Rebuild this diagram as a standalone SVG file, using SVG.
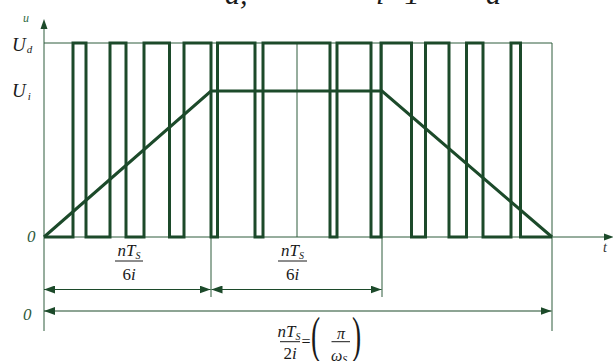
<svg xmlns="http://www.w3.org/2000/svg" width="613" height="361" viewBox="0 0 613 361">
<defs>
<style>
text{font-family:'Liberation Serif','Times New Roman',serif;font-style:italic;fill:#1a1a1a}
.thin{fill:none;stroke:#2e5c3c;stroke-width:1}
.thick{fill:none;stroke:#1c4a2a;stroke-width:3;stroke-linejoin:miter}
.dim{fill:none;stroke:#1c4a2a;stroke-width:1.2;marker-start:url(#ah);marker-end:url(#ah)}
.up{font-style:normal}
.zero{fill:#2f5a3c;font-size:17px}
.bar{stroke:#1a1a1a;stroke-width:1}
</style>
<marker id="ah" viewBox="0 0 11 8" refX="11" refY="4" markerWidth="11" markerHeight="8" markerUnits="userSpaceOnUse" orient="auto-start-reverse">
<path d="M0,0 L11,4 L0,8 z" fill="#1c4a2a"/>
</marker>
</defs>
<rect width="613" height="361" fill="#ffffff"/>

<g id="clipped-formula" font-size="30">
<text x="225" y="3.5">d,</text>
<text x="376" y="3.5">i=1</text>
<text x="486" y="3.5">d</text>
</g>

<g id="axes">
<line class="thin" x1="44" y1="331" x2="44" y2="27"/>
<path d="M44,19 L40.5,29 L47.5,29 z" fill="#1c4a2a"/>
<line class="thin" x1="44" y1="237" x2="605" y2="237"/>
<path d="M614,237 L604,233.5 L604,240.5 z" fill="#1c4a2a"/>
<text x="23" y="21.5" font-size="12" style="fill:#2e6a44">u</text>
<text x="603" y="252" font-size="14" style="fill:#333">t</text>
</g>

<g id="grid">
<line class="thin" x1="44" y1="43" x2="552" y2="43"/>
<line class="thin" x1="552" y1="43" x2="552" y2="331"/>
<line class="thin" x1="211" y1="43" x2="211" y2="297"/>
<line class="thin" x1="382" y1="43" x2="382" y2="297"/>
<line class="thin" x1="297" y1="43" x2="297" y2="237"/>
</g>

<g id="pwm-wave">
<path class="thick" d="M44,237 H73 V43 H86 V237 H110 V43 H126 V237 H144 V43 H169.5 V237 H184 V43 H211 V237 H217.5 V43 H255 V237 H263 V43 H330 V237 H337 V43 H371 V237 H381 V43 H411.5 V237 H425.5 V43 H449 V237 H466.5 V43 H483 V237 H511 V43 H520.5 V237 H552"/>
</g>

<g id="trapezoid">
<path class="thick" d="M44,237 L211,91 H382 L552,237"/>
</g>

<g id="level-labels" font-size="19">
<text x="12" y="51">U<tspan font-size="11" dx="1" dy="2">d</tspan></text>
<text x="12" y="97">U<tspan font-size="11" dx="2" dy="3">i</tspan></text>
<text class="zero" x="27" y="242">0</text>
<text class="zero" x="23" y="320">0</text>
</g>

<g id="connectors">
<line class="dim" x1="44" y1="289.5" x2="210.5" y2="289.5"/>
<line class="dim" x1="211.5" y1="289.5" x2="381.5" y2="289.5"/>
<line class="dim" x1="44" y1="311" x2="551.5" y2="311"/>
</g>

<g id="label-1" font-size="17">
<text x="129" y="256" text-anchor="middle">nT<tspan font-size="10" dy="3">S</tspan></text>
<line class="bar" x1="115" y1="261" x2="143" y2="261"/>
<text x="129" y="280" text-anchor="middle"><tspan class="up">6</tspan>i</text>
</g>

<g id="label-2" font-size="17">
<text x="292.5" y="256" text-anchor="middle">nT<tspan font-size="10" dy="3">S</tspan></text>
<line class="bar" x1="278" y1="261" x2="307" y2="261"/>
<text x="292.5" y="280" text-anchor="middle"><tspan class="up">6</tspan>i</text>
</g>

<g id="label-3" font-size="17">
<text x="289" y="337" text-anchor="middle">nT<tspan font-size="10" dy="3">S</tspan></text>
<line class="bar" x1="280" y1="341.7" x2="300" y2="341.7"/>
<text x="290" y="359" text-anchor="middle"><tspan class="up">2</tspan>i</text>
<text x="301.5" y="347" class="up" font-size="16">=</text>
<text transform="translate(311,352) scale(0.55,1)" class="up" font-size="50">(</text>
<text x="341" y="339" text-anchor="middle" font-size="16">π</text>
<line class="bar" x1="331.5" y1="341.7" x2="350" y2="341.7"/>
<text x="331" y="361" font-size="16">ω<tspan font-size="10" dy="2">S</tspan></text>
<text transform="translate(352,352) scale(0.55,1)" class="up" font-size="50">)</text>
</g>
</svg>
